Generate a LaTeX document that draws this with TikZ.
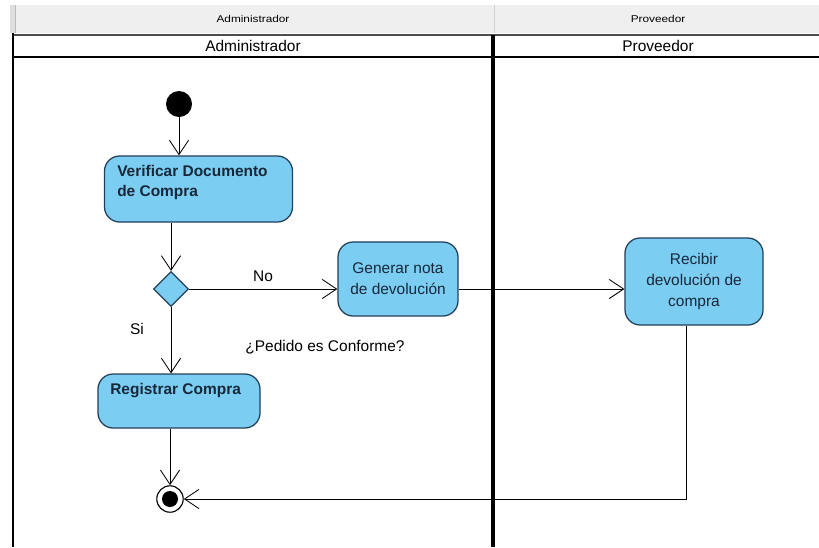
\documentclass[tikz,border=0pt]{standalone}
\usepackage{fontspec}
\setmainfont{Liberation Sans}
\usetikzlibrary{shapes.geometric}
\usetikzlibrary{arrows.meta}
\usetikzlibrary{positioning}
\definecolor{azulact}{HTML}{7CCDF2}
\definecolor{bordeact}{HTML}{22405A}
\definecolor{textoact}{HTML}{16283A}
\definecolor{grisfondo}{HTML}{EFEFEF}

\begin{document}
\begin{tikzpicture}[x=0.025cm,y=-0.025cm,
        accion/.style={draw=bordeact, fill=azulact, line width=0.9pt, rounded corners=0.38cm, inner sep=0pt},
        accionT/.style={text=textoact, font=\fontsize{11}{14.5}\selectfont\bfseries, align=left, inner sep=0pt, anchor=north west},
        accionC/.style={accion, text=textoact, font=\fontsize{11}{14.7}\selectfont, align=center},
        decision/.style={diamond, draw=bordeact, fill=azulact, line width=0.9pt, inner sep=0pt, minimum width=0.875cm, minimum height=0.875cm},
        inicial/.style={circle, fill=black, inner sep=0pt, minimum size=0.65cm},
        final/.style={circle, draw=black, fill=white, line width=0.8pt, inner sep=0pt, minimum size=0.66cm},
        flecha/.style={-{Straight Barb[length=0.36cm, width=0.48cm]}, line width=0.6pt},
        etiq/.style={font=\fontsize{11}{13}\selectfont, inner sep=0pt},
        encab/.style={font=\fontsize{7}{8}\selectfont, inner sep=0pt}]
        \useasboundingbox (0,0) rectangle (819,547);
        \fill[white] (0,0) rectangle (819,547);

        % Header
        \fill[grisfondo] (10,5) rectangle (819,33);
        \fill[gray!25] (10,5) rectangle (16,33);
        \draw[gray!55] (15,5) -- (15,33);
        \draw[gray!35] (494,5) -- (494,33);
        \node[encab] (encA) at (253,19) {\scalebox{1.2}[1]{Administrador}};
        \node[encab] (encP) at (658,19) {\scalebox{1.2}[1]{Proveedor}};

        % Swimlanes
        \draw[black!70, line width=2.1pt] (12,35) -- (819,35);
        \draw[line width=2.1pt] (12,57) -- (819,57);
        \draw[line width=2.1pt] (13,33) -- (13,547);
        \draw[line width=2.8pt] (493,35) -- (493,547);
        \node[etiq] (carrilA) at (253,46) {Administrador};
        \node[etiq] (carrilP) at (658,46) {Proveedor};

        % Nodes
        \node[inicial]  (ini) at (179,104) {};
        \node[accion, minimum width=4.7cm, minimum height=1.65cm]  (verif) at (198.5,189) {};
        \node[accionT]  (verifT) at (117,165) {Verificar Documento\\de Compra};

        \node[decision] (dec) at (171,289) {};
        \node[accionC, minimum width=3cm, minimum height=1.85cm]  (gen) at (398,279) {Generar nota\\de devolución};
        \node[accionC, minimum width=3.45cm, minimum height=2.175cm]  (rec) at (694,281.5) {Recibir\\devolución de\\compra};

        \node[accion, minimum width=4.05cm, minimum height=1.35cm]  (reg) at (179,401) {};
        \node[accionT]  (regT) at (110,383) {Registrar Compra};

        \node[final]    (fin) at (170,499) {};
        \node[circle, fill=black, inner sep=0pt, minimum size=0.4cm]  (finP) at (fin) {};

        \node[etiq]     (no) at (263,276) {No};
        \node[etiq]     (si) at (137,329) {Si};
        \node[etiq]     (preg) at (325,347) {¿Pedido es Conforme?};

        % Edges
        \draw[flecha] (ini) -- (ini |- verif.north);
        \draw[flecha] (verif.south -| dec) -- (dec.north);
        \draw[flecha] (dec.east) -- (dec.east -| gen.west);
        \draw[flecha] (dec.east -| gen.east) -- (dec.east -| rec.west);
        \draw[flecha] (dec.south) -- (dec.south |- reg.north);
        \draw[flecha] (reg.south -| fin) -- (fin.north);
        \coordinate (recB) at ([xshift=-0.2cm]rec.south);
        \draw[flecha] (recB) |- (fin.east);
    \end{tikzpicture}
\end{document}
